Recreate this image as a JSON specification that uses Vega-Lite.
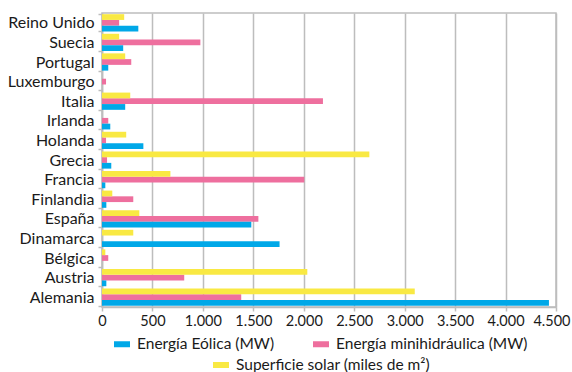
{
  "$schema": "https://vega.github.io/schema/vega-lite/v6.json",
  "autosize": {"type": "none"},
  "padding": {"left": 102, "top": 13, "right": 16, "bottom": 65},
  "width": 454,
  "height": 294,
  "background": "white",
  "config": {
    "locale": {"number": {"decimal": ",", "thousands": ".", "grouping": [3], "currency": ["", " €"]}},
    "font": "Lato",
    "view": {"stroke": "#bdbdbd", "strokeWidth": 1.5},
    "axis": {"labelFont": "Lato", "labelFontSize": 16, "labelColor": "#1a1a1a", "domainColor": "#bdbdbd", "domainWidth": 1.5, "tickColor": "#bdbdbd", "tickWidth": 1.5, "title": null, "labelLimit": 0},
    "legend": {"labelFont": "Lato", "labelFontSize": 15.5, "labelColor": "#1a1a1a", "labelLimit": 0}
  },
  "data": {"values": [
    {"pais": "Reino Unido", "serie": "Superficie solar (miles de m²)", "valor": 220},
    {"pais": "Reino Unido", "serie": "Energía minihidráulica (MW)", "valor": 170},
    {"pais": "Reino Unido", "serie": "Energía Eólica (MW)", "valor": 360},
    {"pais": "Suecia", "serie": "Superficie solar (miles de m²)", "valor": 170},
    {"pais": "Suecia", "serie": "Energía minihidráulica (MW)", "valor": 975},
    {"pais": "Suecia", "serie": "Energía Eólica (MW)", "valor": 210},
    {"pais": "Portugal", "serie": "Superficie solar (miles de m²)", "valor": 230},
    {"pais": "Portugal", "serie": "Energía minihidráulica (MW)", "valor": 290},
    {"pais": "Portugal", "serie": "Energía Eólica (MW)", "valor": 62},
    {"pais": "Luxemburgo", "serie": "Superficie solar (miles de m²)", "valor": 0},
    {"pais": "Luxemburgo", "serie": "Energía minihidráulica (MW)", "valor": 40},
    {"pais": "Luxemburgo", "serie": "Energía Eólica (MW)", "valor": 0},
    {"pais": "Italia", "serie": "Superficie solar (miles de m²)", "valor": 280},
    {"pais": "Italia", "serie": "Energía minihidráulica (MW)", "valor": 2190},
    {"pais": "Italia", "serie": "Energía Eólica (MW)", "valor": 230},
    {"pais": "Irlanda", "serie": "Superficie solar (miles de m²)", "valor": 0},
    {"pais": "Irlanda", "serie": "Energía minihidráulica (MW)", "valor": 62},
    {"pais": "Irlanda", "serie": "Energía Eólica (MW)", "valor": 82},
    {"pais": "Holanda", "serie": "Superficie solar (miles de m²)", "valor": 240},
    {"pais": "Holanda", "serie": "Energía minihidráulica (MW)", "valor": 40},
    {"pais": "Holanda", "serie": "Energía Eólica (MW)", "valor": 410},
    {"pais": "Grecia", "serie": "Superficie solar (miles de m²)", "valor": 2650},
    {"pais": "Grecia", "serie": "Energía minihidráulica (MW)", "valor": 50},
    {"pais": "Grecia", "serie": "Energía Eólica (MW)", "valor": 92},
    {"pais": "Francia", "serie": "Superficie solar (miles de m²)", "valor": 678},
    {"pais": "Francia", "serie": "Energía minihidráulica (MW)", "valor": 2005},
    {"pais": "Francia", "serie": "Energía Eólica (MW)", "valor": 33},
    {"pais": "Finlandia", "serie": "Superficie solar (miles de m²)", "valor": 102},
    {"pais": "Finlandia", "serie": "Energía minihidráulica (MW)", "valor": 310},
    {"pais": "Finlandia", "serie": "Energía Eólica (MW)", "valor": 43},
    {"pais": "España", "serie": "Superficie solar (miles de m²)", "valor": 370},
    {"pais": "España", "serie": "Energía minihidráulica (MW)", "valor": 1550},
    {"pais": "España", "serie": "Energía Eólica (MW)", "valor": 1480},
    {"pais": "Dinamarca", "serie": "Superficie solar (miles de m²)", "valor": 310},
    {"pais": "Dinamarca", "serie": "Energía minihidráulica (MW)", "valor": 0},
    {"pais": "Dinamarca", "serie": "Energía Eólica (MW)", "valor": 1760},
    {"pais": "Bélgica", "serie": "Superficie solar (miles de m²)", "valor": 33},
    {"pais": "Bélgica", "serie": "Energía minihidráulica (MW)", "valor": 62},
    {"pais": "Bélgica", "serie": "Energía Eólica (MW)", "valor": 0},
    {"pais": "Austria", "serie": "Superficie solar (miles de m²)", "valor": 2035},
    {"pais": "Austria", "serie": "Energía minihidráulica (MW)", "valor": 815},
    {"pais": "Austria", "serie": "Energía Eólica (MW)", "valor": 43},
    {"pais": "Alemania", "serie": "Superficie solar (miles de m²)", "valor": 3100},
    {"pais": "Alemania", "serie": "Energía minihidráulica (MW)", "valor": 1380},
    {"pais": "Alemania", "serie": "Energía Eólica (MW)", "valor": 4430}
  ]},
  "encoding": {
    "y": {"field": "pais", "type": "nominal",
      "sort": ["Reino Unido", "Suecia", "Portugal", "Luxemburgo", "Italia", "Irlanda", "Holanda", "Grecia", "Francia", "Finlandia", "España", "Dinamarca", "Bélgica", "Austria", "Alemania"],
      "scale": {"paddingInner": 0.12, "paddingOuter": 0.06},
      "axis": {"tickBand": "extent", "tickSize": 4, "labelPadding": 4, "grid": false}},
    "yOffset": {"field": "serie", "type": "nominal",
      "sort": ["Superficie solar (miles de m²)", "Energía minihidráulica (MW)", "Energía Eólica (MW)"],
      "scale": {"domain": ["Superficie solar (miles de m²)", "Energía minihidráulica (MW)", "Energía Eólica (MW)"], "paddingInner": 0, "paddingOuter": 0}},
    "x": {"field": "valor", "type": "quantitative",
      "scale": {"domain": [0, 4500], "nice": false},
      "axis": {"values": [0, 500, 1000, 1500, 2000, 2500, 3000, 3500, 4000, 4500], "format": ",d", "grid": true, "gridColor": "#bdbdbd", "gridWidth": 1.5, "tickSize": 4, "labelPadding": 3, "labelOverlap": false, "labelFlush": false, "labelFontSize": 14.5,
        "labelAlign": {"condition": {"test": "datum.value === 4500", "value": "right"}, "value": "center"},
        "labelOffset": {"condition": {"test": "datum.value === 4500", "value": 14}, "value": 0}}}
  },
  "layer": [
    {
      "transform": [{"filter": "datum.serie !== 'Superficie solar (miles de m²)'"}],
      "mark": {"type": "bar"},
      "encoding": {
        "color": {"field": "serie", "type": "nominal",
          "scale": {"domain": ["Energía Eólica (MW)", "Energía minihidráulica (MW)"], "range": ["#00a8e8", "#ee6f9e"]},
          "legend": {"orient": "none", "direction": "horizontal", "legendX": 12, "legendY": 323, "title": null, "symbolType": "M-1,-0.375H1V0.375H-1Z", "symbolSize": 256, "symbolStrokeWidth": 0, "labelOffset": 7, "columnPadding": 38}}
      }
    },
    {
      "transform": [{"filter": "datum.serie === 'Superficie solar (miles de m²)'"}],
      "mark": {"type": "bar"},
      "encoding": {
        "color": {"field": "serie", "type": "nominal",
          "scale": {"domain": ["Superficie solar (miles de m²)"], "range": ["#f9e943"]},
          "legend": {"orient": "none", "direction": "horizontal", "legendX": 111, "legendY": 344, "title": null, "symbolType": "M-1,-0.375H1V0.375H-1Z", "symbolSize": 256, "symbolStrokeWidth": 0, "labelOffset": 7}}
      }
    }
  ],
  "resolve": {"scale": {"color": "independent"}}
}
